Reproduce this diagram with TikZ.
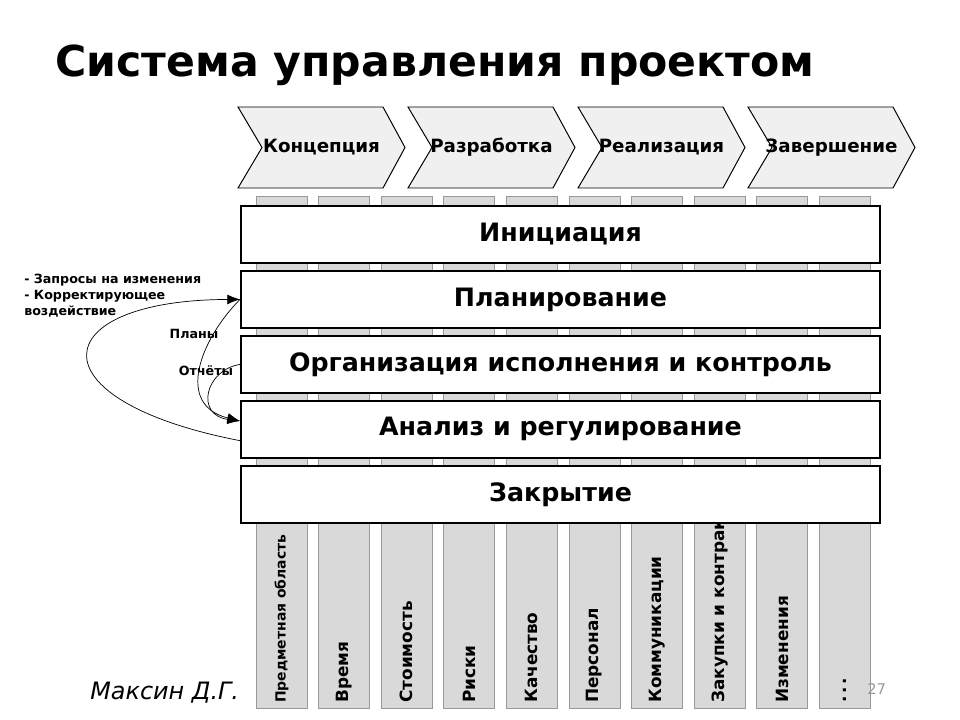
\documentclass[tikz,border=0pt]{standalone}
\usepackage{fontspec}
\setmainfont{DejaVu Sans}[BoldFont={DejaVu Sans Bold},ItalicFont={DejaVu Sans Oblique}]
\usetikzlibrary{positioning}
\usetikzlibrary{arrows.meta}

\tikzset{
  phasebox/.style={draw=black,fill=black!6,line width=0.7pt},
  areabox/.style={draw=black!40,fill=black!15,line width=0.5pt},
  stagebar/.style={draw=black,fill=white,line width=1.3pt,minimum width=15.975cm,minimum height=1.425cm,inner sep=0pt,anchor=north west,font=\fontsize{18}{20}\selectfont\bfseries},
  arealabel/.style={rotate=90,anchor=west,inner sep=0pt,font=\fontsize{12}{14}\selectfont\bfseries},
  loopline/.style={line width=0.5pt,-{Latex[length=9pt,width=7pt]}},
  notelabel/.style={font=\fontsize{9}{11.3}\selectfont\bfseries,inner sep=0pt}
}

\begin{document}
\begin{tikzpicture}[x=0.025cm,y=-0.025cm]
\useasboundingbox (0,0) rectangle (960,720);
% title
\node[anchor=base west,inner sep=0pt,font=\fontsize{30.3}{34}\selectfont\bfseries] (title) at (55,77) {Система управления проектом};

% phases
\foreach \name/\txt [count=\i from 0] in {concept/Концепция,design/Разработка,impl/Реализация,finish/Завершение}{
  \pgfmathsetmacro{\xl}{238+170*\i}
  \draw[phasebox] (\xl,107) -- ++(145,0) -- ++(22,40.5) -- ++(-22,40.5) -- ++(-145,0) -- ++(24,-40.5) -- cycle;
  \node[anchor=base,inner sep=0pt,font=\fontsize{13}{15}\selectfont\bfseries] (\name) at (\xl+83.5,153) {\txt};
}

% knowledge areas
\foreach \txt [count=\i from 0] in {{\fontsize{9.9}{12}\selectfont Предметная область},Время,Стоимость,Риски,Качество,Персонал,Коммуникации,Закупки и контракты,Изменения,{.\,.\,.}}{
  \pgfmathsetmacro{\xc}{256+62.6*\i}
  \draw[areabox] (\xc,196) rectangle (\xc+51,708);
  \node[arealabel] (area\i) at (\xc+25.5,703) {\txt};
}

% process groups
\foreach \name/\txt [count=\i from 0] in {init/Инициация,plan/Планирование,exec/Организация исполнения и контроль,anal/Анализ и регулирование,close/Закрытие}{
  \node[stagebar] (\name) at (240,205+65*\i) {\txt};
}

% feedback loops
\draw[loopline] ([yshift=-8pt]anal.west) .. controls (30,400) and (45,300) .. (plan.west);
\draw[loopline] (plan.west) .. controls (200,340) and (175,405) .. ([yshift=6pt]anal.west);
\draw[loopline] (exec.west) .. controls (205,370) and (195,415) .. ([yshift=6pt]anal.west);

\node[notelabel,align=left,anchor=north west] (requests) at (24,274) {- Запросы на изменения\\- Корректирующее\\воздействие};
\node[notelabel] (plans) at (194,334) {Планы};
\node[notelabel] (reports) at (206,371) {Отчёты};

% footer
\node[anchor=base west,inner sep=0pt,font=\fontsize{17}{20}\selectfont\itshape] (author) at (90,699) {Максин Д.Г.};
\node[anchor=base west,inner sep=0pt,text=black!40,font=\fontsize{10.5}{12}\selectfont] (pagenum) at (867,694) {27};
\end{tikzpicture}
\end{document}
